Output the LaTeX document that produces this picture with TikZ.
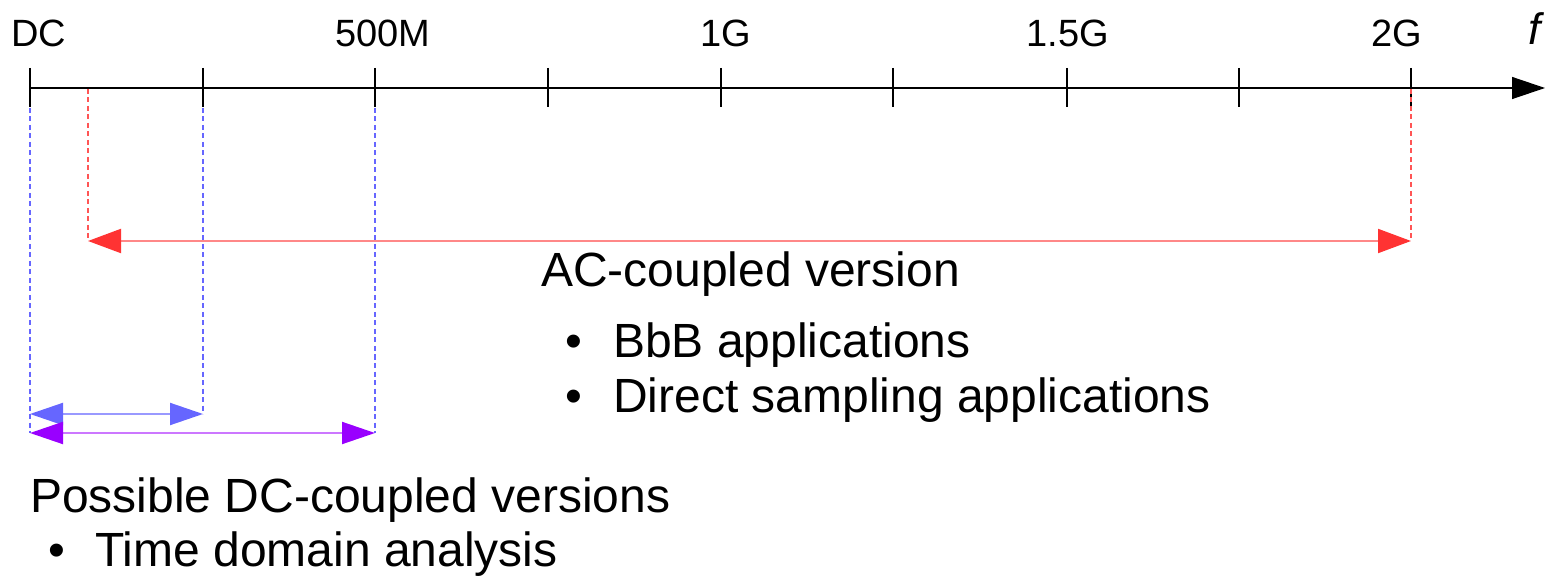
\documentclass[tikz,border=0pt]{standalone}
\usepackage{fontspec}
\setmainfont{Liberation Sans}
\usetikzlibrary{arrows.meta}
\definecolor{acred}{HTML}{FF3333}
\definecolor{acline}{HTML}{FF8888}
\definecolor{acguide}{HTML}{FF5555}
\definecolor{dcblue}{HTML}{6666FF}
\definecolor{dcguide}{HTML}{6666FF}
\definecolor{dcblueline}{HTML}{9999FF}
\definecolor{dcpurple}{HTML}{9900FF}
\definecolor{dcpurpleline}{HTML}{CC77FF}
\tikzset{
  x=1pt, y=-1pt,
  axis/.style={line width=1.3pt, -{Triangle[length=33pt,width=22pt]}},
  tick/.style={line width=1.3pt},
  ticklabel/.style={anchor=base, inner sep=0pt, font=\fontsize{38}{44}\selectfont},
  guide/.style={line width=1.1pt, dash pattern=on 5pt off 3.5pt},
  span/.style={line width=2pt},
  bigtext/.style={anchor=base west, inner sep=0pt, font=\fontsize{48}{56}\selectfont},
}
\begin{document}
\begin{tikzpicture}
\useasboundingbox (0,0) rectangle (1545,577);

% frequency axis
\coordinate (a0) at (30,88);
\coordinate (aend) at (1545,88);
\draw[axis] (a0) -- (aend);
\foreach \i/\x in {0/30,1/203,2/375,3/548,4/721,5/893,6/1067,7/1239,8/1411}{
  \coordinate (t\i) at (\x,88);
  \draw[tick] (\x,68) -- (\x,107);
}
\node[ticklabel] (lDC) at (39,47) {DC};
\node[ticklabel] (l500) at (383,47) {500M};
\node[ticklabel] (l1G) at (726,47) {1G};
\node[ticklabel] (l15) at (1068,47) {1.5G};
\node[ticklabel] (l2G) at (1397,47) {2G};
\node[anchor=base, inner sep=0pt, font=\fontsize{44}{50}\selectfont\itshape] (lf) at (1535,45) {f};

% guide lines down from the axis
\coordinate (acL) at (88,241);
\coordinate (acR) at (1411,241);
\coordinate (bL) at (30,414);
\coordinate (bR) at (203,414);
\coordinate (pL) at (30,433);
\coordinate (pR) at (375,433);
\draw[guide, color=acguide] (88,89) -- (acL);
\draw[guide, color=acguide] (1411,89) -- (acR);
\draw[guide, color=dcguide] (30,108) -- (pL);
\draw[guide, color=dcguide] (203,108) -- (bR);
\draw[guide, color=dcguide] (375,108) -- (pR);

% AC-coupled span
\draw[span, acline, {Triangle[length=33pt,width=24pt,color=acred]}-{Triangle[length=33pt,width=24pt,color=acred]}] (acL) -- (acR);
% DC-coupled spans
\draw[span, dcblueline, {Triangle[length=33pt,width=22pt,color=dcblue]}-{Triangle[length=33pt,width=22pt,color=dcblue]}] (bL) -- (bR);
\draw[span, dcpurpleline, {Triangle[length=33pt,width=22pt,color=dcpurple]}-{Triangle[length=33pt,width=22pt,color=dcpurple]}] (pL) -- (pR);

% descriptions
\node[bigtext] (ac) at (541,287) {AC-coupled version};
\node[bigtext] (acb1) at (565,358) {•};
\node[bigtext] (act1) at (613,358) {BbB applications};
\node[bigtext] (acb2) at (565,412) {•};
\node[bigtext] (act2) at (613,412) {Direct sampling applications};
\node[bigtext] (dc) at (30,512) {Possible DC-coupled versions};
\node[bigtext] (dcb1) at (48,566) {•};
\node[bigtext] (dct1) at (95,566) {Time domain analysis};
\end{tikzpicture}
\end{document}
